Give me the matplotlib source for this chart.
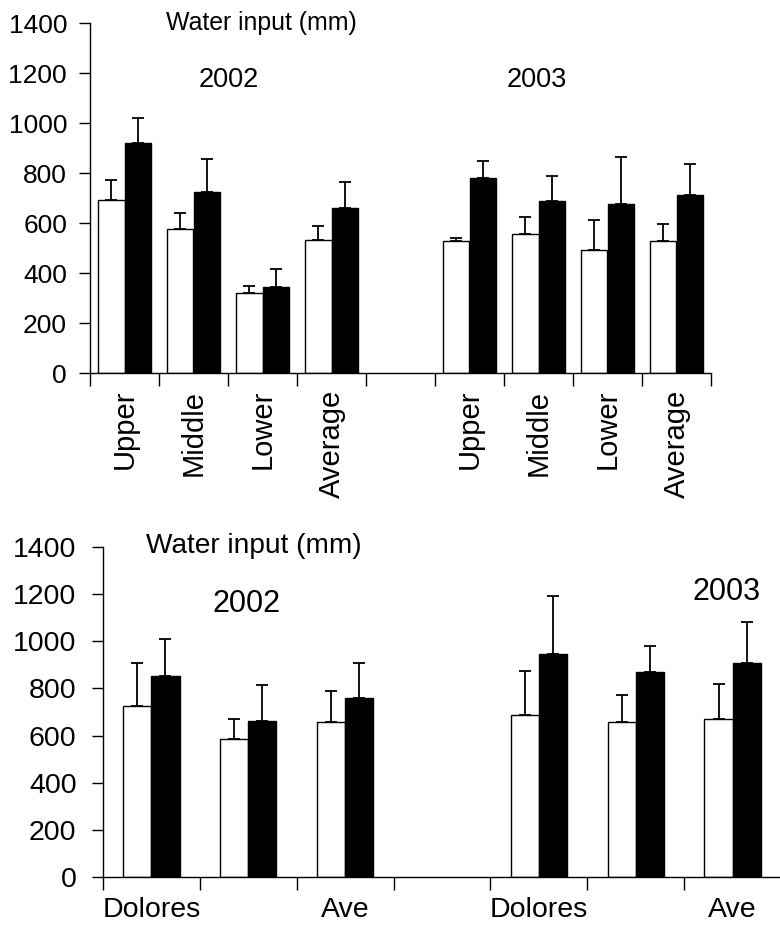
import numpy as np
import matplotlib
matplotlib.use("Agg")
import matplotlib.pyplot as plt

plt.rcParams['font.family'] = ['Liberation Sans', 'DejaVu Sans']

# top panel: position along the river, two years (empty slot between them)
top_labels = ["Upper", "Middle", "Lower", "Average", "",
              "Upper", "Middle", "Lower", "Average"]
top_white = [695, 576, 323, 535, np.nan, 529, 556, 495, 529]
top_white_err = [77, 65, 28, 54, 0, 12, 69, 118, 68]
top_black = [921, 724, 345, 661, np.nan, 781, 690, 677, 712]
top_black_err = [100, 132, 71, 104, 0, 69, 98, 190, 125]

# bottom panel: rivers, two years (only every other label shown)
bot_labels = ["Dolores", "", "Ave", "", "Dolores", "", "Ave"]
bot_white = [726, 584, 656, np.nan, 686, 656, 670]
bot_white_err = [181, 86, 133, 0, 189, 116, 150]
bot_black = [854, 663, 758, np.nan, 947, 868, 907]
bot_black_err = [156, 151, 149, 0, 243, 110, 174]

W, H = 780, 936
fig = plt.figure(figsize=(W / 100, H / 100), dpi=100)


def px_axes(left, right, bottom, top):
    return fig.add_axes([left / W, 1 - bottom / H, (right - left) / W, (bottom - top) / H])


def draw_panel(ax, labels, white, white_err, black, black_err, width,
               rot, fs_y, fs_x, ypad, xpad):
    n = len(labels)
    x = np.arange(n)
    zeros = np.zeros(n)
    ax.bar(x - width / 2, white, width, color="white", edgecolor="black",
           linewidth=1.0, zorder=2)
    ax.bar(x + width / 2, black, width, color="black", edgecolor="black",
           linewidth=1.0, zorder=2)
    ax.errorbar(x - width / 2, white, yerr=[zeros, white_err], fmt="none",
                ecolor="black", elinewidth=1.3, capsize=4.5, capthick=1.3, zorder=3)
    ax.errorbar(x + width / 2, black, yerr=[zeros, black_err], fmt="none",
                ecolor="black", elinewidth=1.3, capsize=4.5, capthick=1.3, zorder=3)
    ax.set_xlim(-0.5, n - 0.5)
    ax.set_ylim(0, 1400)
    ax.set_yticks(np.arange(0, 1401, 200))
    ax.tick_params(axis="y", direction="out", length=8, width=1.0,
                   labelsize=fs_y, pad=ypad)
    ax.set_xticks(np.arange(-0.5, n, 1.0))
    ax.set_xticklabels([])
    ax.set_xticks(x, minor=True)
    ax.set_xticklabels(labels, minor=True, rotation=rot, fontsize=fs_x)
    ax.tick_params(axis="x", which="major", direction="out", length=9, width=1.0)
    ax.tick_params(axis="x", which="minor", length=0, pad=xpad)
    for s in ["top", "right"]:
        ax.spines[s].set_visible(False)
    for s in ["left", "bottom"]:
        ax.spines[s].set_linewidth(1.0)


ax1 = px_axes(90, 711, 373.3, 23.3)
draw_panel(ax1, top_labels, top_white, top_white_err, top_black, top_black_err,
           0.39, 90, 19, 21, 8.5, 12)

ax2 = px_axes(103, 781, 877.3, 546.7)
draw_panel(ax2, bot_labels, bot_white, bot_white_err, bot_black, bot_black_err,
           0.29, 0, 20.5, 20.5, 11, 14)


def ftext(xp, yp, s, size):
    fig.text(xp / W, 1 - yp / H, s, ha="center", va="center", fontsize=size)


ftext(261, 23, "Water input (mm)", 17.9)
ftext(229, 80, "2002", 19.5)
ftext(537, 80, "2003", 19.5)
ftext(254, 546, "Water input (mm)", 20.2)
ftext(247, 604, "2002", 22)
ftext(727, 592, "2003", 22)

fig.savefig("out.png", dpi=100)
